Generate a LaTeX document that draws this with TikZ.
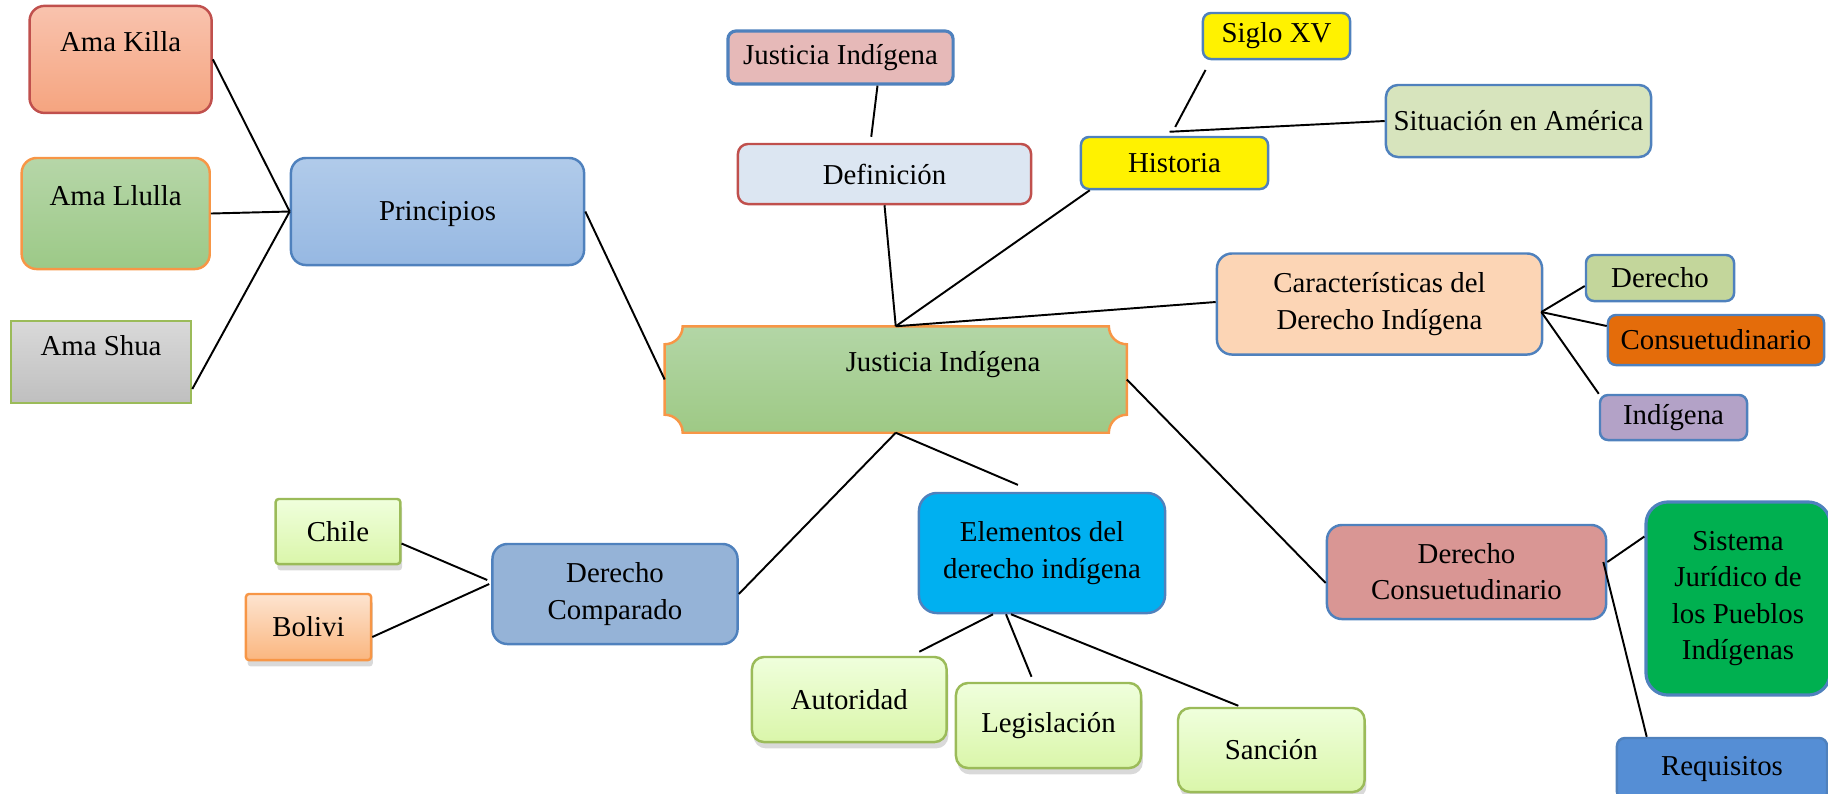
\documentclass[tikz,border=0pt]{standalone}
\usepackage{fontspec}
\setmainfont{Liberation Serif}
\usepackage{tikz}
\usetikzlibrary{calc,shadows,backgrounds}

\definecolor{bordeazul}{HTML}{4F81BD}
\definecolor{borderojo}{HTML}{C0504D}
\definecolor{bordenaranja}{HTML}{F79646}
\definecolor{bordeverde}{HTML}{9BBB59}

\begin{document}
\begin{tikzpicture}[x=0.01cm, y=-0.01cm, font=\fontsize{8.2}{10.3}\selectfont,
      caja/.style={draw=bordeazul, line width=0.7pt, rounded corners=0.08cm, align=center, inner sep=0pt},
      linea/.style={line width=0.55pt},
      sombra/.style={drop shadow={opacity=0.3, shadow xshift=0.5pt, shadow yshift=-1.8pt}},
      verdeclaro/.style={caja, draw=bordeverde, top color=green!4!white!90!lime, bottom color={rgb,255:red,218;green,246;blue,170}, sombra}]
      \useasboundingbox (0,0) rectangle (1828,793);
      
      % principios
      \node[caja, draw=borderojo, top color={rgb,255:red,249;green,195;blue,174}, bottom color={rgb,255:red,245;green,164;blue,127},
            rounded corners=0.15cm, minimum width=1.82cm, minimum height=1.07cm, text height=0.2cm, text depth=0.354cm] (killa) at (120.6,59.4) {Ama Killa};
      \node[caja, draw=bordenaranja, top color={rgb,255:red,182;green,214;blue,168}, bottom color={rgb,255:red,156;green,201;blue,135},
            rounded corners=0.15cm, minimum width=1.88cm, minimum height=1.11cm, text height=0.2cm, text depth=0.37cm] (llulla) at (115.7,213.5) {Ama Llulla};
      \node[caja, draw=bordeverde, top color={rgb,255:red,217;green,217;blue,217}, bottom color={rgb,255:red,191;green,191;blue,191},
            sharp corners, minimum width=1.80cm, minimum height=0.82cm, text height=0.2cm, text depth=0.34cm] (shua) at (101,362) {Ama Shua};
      \node[caja, top color={rgb,255:red,177;green,203;blue,234}, bottom color={rgb,255:red,150;green,184;blue,226},
            rounded corners=0.15cm, minimum width=2.93cm, minimum height=1.07cm, text height=0.24cm, text depth=0.07cm] (prin) at (437.5,211.5) {Principios};
      
      % centro
      \node[minimum width=4.605cm, minimum height=1.05cm, inner sep=0pt, text height=0.2cm, text depth=0.356cm] (ji) at (895.75,379.5) {\hspace*{0.945cm}Justicia Indígena};
      \begin{scope}[on background layer]
      \path[draw=bordenaranja, line width=0.7pt, top color={rgb,255:red,179;green,214;blue,166}, bottom color={rgb,255:red,158;green,201;blue,133}]
            ($(ji.north west)+(18,0)$) -- ($(ji.north east)+(-18,0)$) arc(180:90:18) -- ($(ji.south east)+(0,-18)$) arc(270:180:18)
            -- ($(ji.south west)+(18,0)$) arc(360:270:18) -- ($(ji.north west)+(0,18)$) arc(90:0:18) -- cycle;
      \end{scope}
      
      % arriba
      \node[caja, line width=0.9pt, fill={rgb,255:red,230;green,185;blue,184}, minimum width=2.25cm, minimum height=0.53cm] (jitop) at (840.5,57.5) {Justicia Indígena};
      \node[caja, draw=borderojo, fill={rgb,255:red,220;green,230;blue,242}, rounded corners=0.1cm, minimum width=2.93cm, minimum height=0.60cm] (def) at (884.5,174) {Definición};
      \node[caja, fill=yellow, minimum width=1.87cm, minimum height=0.52cm] (hist) at (1174.5,163) {Historia};
      \node[caja, fill=yellow, minimum width=1.47cm, minimum height=0.46cm] (siglo) at (1276.5,36) {Siglo XV};
      \node[caja, fill={rgb,255:red,215;green,228;blue,189}, rounded corners=0.12cm, minimum width=2.65cm, minimum height=0.72cm] (situ) at (1518.5,121) {Situación en América};
      
      % derecha
      \node[caja, fill={rgb,255:red,252;green,213;blue,181}, rounded corners=0.15cm, minimum width=3.25cm, minimum height=1.01cm] (carac) at (1379.5,304) {Características del\\Derecho Indígena};
      \node[caja, fill={rgb,255:red,195;green,214;blue,155}, minimum width=1.48cm, minimum height=0.46cm] (dere) at (1660,278) {Derecho};
      \node[caja, fill={rgb,255:red,228;green,108;blue,10}, minimum width=2.16cm, minimum height=0.50cm] (consu) at (1716,340) {Consuetudinario};
      \node[caja, fill={rgb,255:red,179;green,162;blue,199}, minimum width=1.47cm, minimum height=0.45cm] (indi) at (1673.5,417.5) {Indígena};
      \node[caja, fill={rgb,255:red,217;green,150;blue,148}, rounded corners=0.15cm, minimum width=2.79cm, minimum height=0.94cm] (dercon) at (1466.5,572) {Derecho\\Consuetudinario};
      \node[caja, line width=0.9pt, fill={rgb,255:red,0;green,176;blue,80}, rounded corners=0.22cm, minimum width=1.84cm, minimum height=1.93cm] (sist) at (1738,598.5) {Sistema\\Jurídico de\\los Pueblos\\Indígenas};
      \node[caja, fill={rgb,255:red,85;green,142;blue,213}, minimum width=2.10cm, minimum height=0.62cm] (requ) at (1722,769) {Requisitos};
      
      % abajo
      \node[verdeclaro, draw=bordeverde, rounded corners=0.03cm, minimum width=1.245cm, minimum height=0.65cm] (chile) at (338,531.5) {Chile};
      \node[caja, draw=bordenaranja, top color={rgb,255:red,253;green,228;blue,208}, bottom color={rgb,255:red,250;green,182;blue,127}, sombra,
            rounded corners=0.03cm, minimum width=1.25cm, minimum height=0.66cm] (boli) at (308.5,627) {Bolivi};
      \node[caja, fill={rgb,255:red,149;green,179;blue,215}, rounded corners=0.15cm, minimum width=2.45cm, minimum height=1.00cm] (dercom) at (615,594) {Derecho\\Comparado};
      \node[caja, fill={rgb,255:red,0;green,176;blue,240}, rounded corners=0.18cm, minimum width=2.46cm, minimum height=1.20cm] (elem) at (1042,553) {Elementos del\\derecho indígena};
      \node[verdeclaro, rounded corners=0.12cm, minimum width=1.945cm, minimum height=0.85cm] (auto) at (849.25,699.5) {Autoridad};
      \node[verdeclaro, rounded corners=0.12cm, minimum width=1.85cm, minimum height=0.85cm] (legi) at (1048.5,725.5) {Legislación};
      \node[verdeclaro, rounded corners=0.12cm, minimum width=1.865cm, minimum height=0.84cm] (sanc) at (1271.3,750) {Sanción};
      
      % lineas
      \draw[linea] (killa.east) -- (prin.west);
      \draw[linea] (llulla.east) -- (prin.west);
      \draw[linea] ($(shua.east)+(0,27)$) -- (prin.west);
      \draw[linea] (prin.east) -- (ji.west);
      
      \draw[linea, shorten >=0.06cm] ($(jitop.south)+(37,0)$) -- ($(def.north)+(-14,0)$);
      \draw[linea] (def.south) -- (ji.north);
      \draw[linea] ($(hist.south west)+(10,0)$) -- (ji.north);
      \draw[linea] ($(carac.west)+(0,-2)$) -- (ji.north);
      \draw[linea, shorten <=0.11cm, shorten >=0.1cm] ($(siglo.south west)+(9,0)$) -- ($(hist.north)+(-4,0)$);
      \draw[linea] ($(hist.north)+(-5,-4)$) -- (situ.west);
      
      \coordinate (nudo) at ($(carac.east)+(-2,8)$);
      \draw[linea] (nudo) -- ($(dere.west)+(0,8)$);
      \draw[linea] (nudo) -- ($(consu.west)+(0,-14)$);
      \draw[linea] (nudo) -- (indi.north west);
      
      \draw[linea] (ji.east) -- ($(dercon.west)+(0,11)$);
      \draw[linea] ($(dercon.east)+(0,-10)$) -- ($(sist.west)+(0,-62)$);
      \draw[linea] ($(dercon.east)+(-4,-10)$) -- ($(requ.north west)+(31,0)$);
      
      \draw[linea] (ji.south) -- (dercom.east);
      \draw[linea, shorten >=0.175cm] (ji.south) -- ($(elem.north)+(-8,0)$);
      \draw[linea] ($(chile.east)+(0,12)$) -- ($(dercom.west)+(-4,-14)$);
      \draw[linea] ($(boli.east)+(0,10)$) -- ($(dercom.west)+(-2,-10)$);
      \draw[linea] ($(elem.south)+(-49,0)$) -- ($(auto.north)+(70,-4)$);
      \draw[linea] ($(elem.south)+(-36,0)$) -- ($(legi.north)+(-17,-5)$);
      \draw[linea] ($(elem.south)+(-31,0)$) -- ($(sanc.north)+(-33,-1)$);
      
\end{tikzpicture}
\end{document}
